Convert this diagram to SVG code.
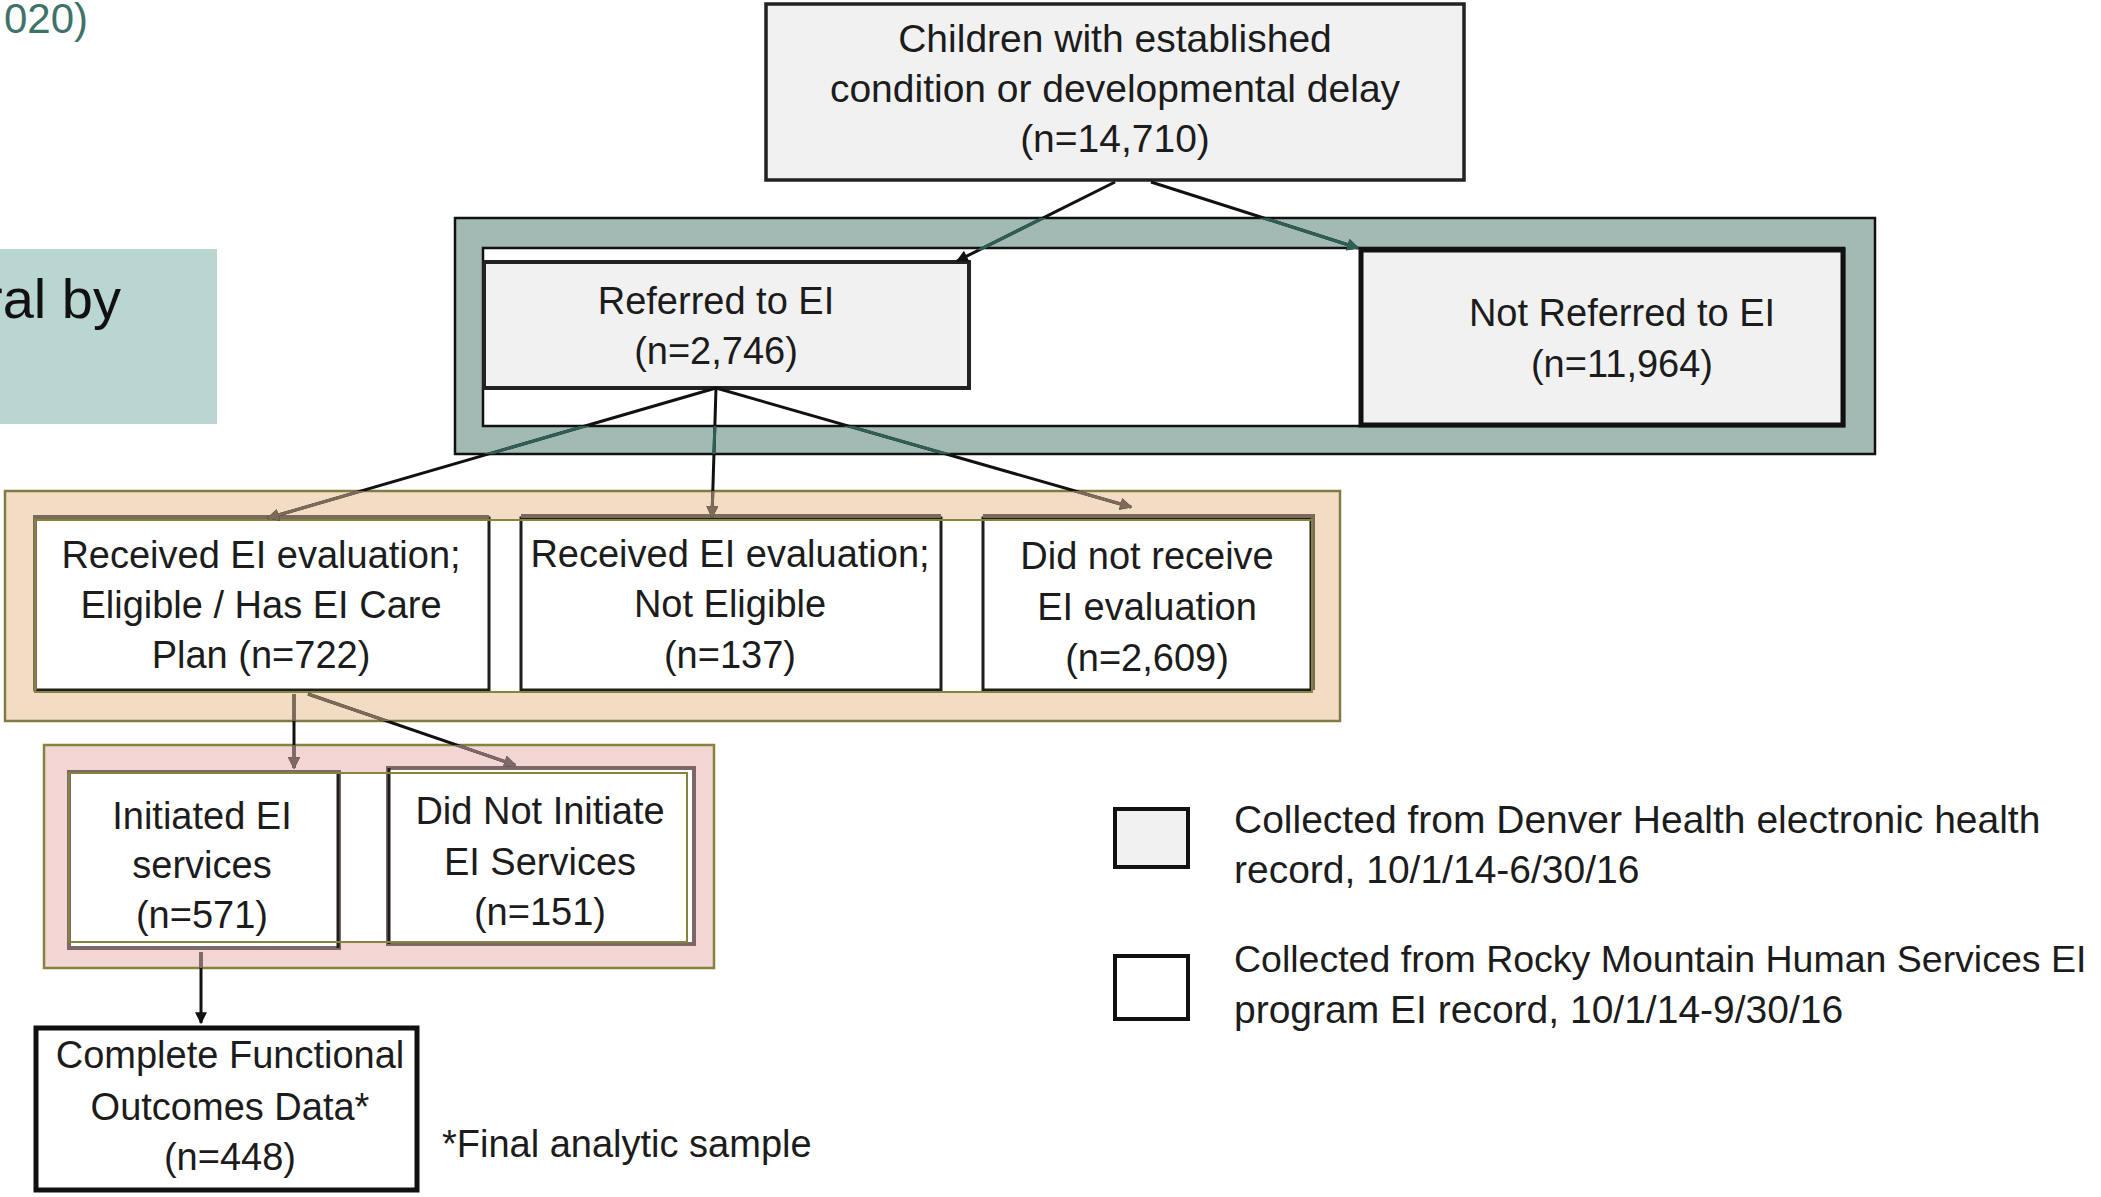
<svg xmlns="http://www.w3.org/2000/svg" width="2101" height="1197" viewBox="0 0 2101 1197">
<defs>
<style>
text{font-family:"Liberation Sans",Arial,sans-serif;fill:#1c1c1c;text-anchor:middle}
.t{font-size:38px}
.tl{font-size:39px;text-anchor:start}
.gray{fill:#f1f1f1}
.wbox{fill:#ffffff;stroke:#1e1e1e;stroke-width:3}
.olive{fill:none;stroke:#85843f;stroke-width:2}
.ln{fill:none;stroke-width:3;stroke:#111}
</style>
<marker id="ah" viewBox="0 0 10 10" refX="9" refY="5" markerWidth="14" markerHeight="12" markerUnits="userSpaceOnUse" orient="auto"><path d="M0,0 L10,5 L0,10 z" fill="#111"/></marker>
<marker id="ahT" viewBox="0 0 10 10" refX="9" refY="5" markerWidth="14" markerHeight="12" markerUnits="userSpaceOnUse" orient="auto"><path d="M0,0 L10,5 L0,10 z" fill="#2f5e55"/></marker>
<marker id="ahB" viewBox="0 0 10 10" refX="9" refY="5" markerWidth="14" markerHeight="12" markerUnits="userSpaceOnUse" orient="auto"><path d="M0,0 L10,5 L0,10 z" fill="#7e6a58"/></marker>
<marker id="ahP" viewBox="0 0 10 10" refX="9" refY="5" markerWidth="14" markerHeight="12" markerUnits="userSpaceOnUse" orient="auto"><path d="M0,0 L10,5 L0,10 z" fill="#7e6868"/></marker>
<clipPath id="cTeal"><path clip-rule="evenodd" d="M455,218 H1875 V454 H455 Z M483,250 V426 H1844 V250 Z"/></clipPath>
<clipPath id="cOrange"><rect x="5" y="491" width="1335" height="230"/></clipPath>
<clipPath id="cPink"><rect x="44" y="745" width="670" height="223"/></clipPath>
</defs>
<rect width="2101" height="1197" fill="#ffffff"/>

<!-- slide fragments -->
<text x="88" y="33" style="font-size:42px;text-anchor:end;fill:#3f7268">020)</text>
<rect x="0" y="249" width="217" height="175" fill="#bad6d2"/>
<text x="121" y="318" style="font-size:56px;text-anchor:end;fill:#111">ral by</text>

<!-- bands -->
<g id="band-teal">
<rect x="455" y="218" width="1420" height="236" fill="#a2b9b4" stroke="#111" stroke-width="2.5"/>
<rect x="483" y="248" width="1361" height="178" fill="#ffffff" stroke="#111" stroke-width="2.5"/>
</g>
<g id="band-orange">
<rect x="5" y="491" width="1335" height="230" fill="#f2dcc4" stroke="#7f7d42" stroke-width="2.5"/>
<rect x="35" y="520" width="1277" height="172" fill="#ffffff"/>
</g>
<g id="band-pink">
<rect x="44" y="745" width="670" height="223" fill="#f3d6d4" stroke="#85843f" stroke-width="2.5"/>
<rect x="69" y="773" width="618" height="169" fill="#ffffff"/>
</g>

<!-- nodes -->
<g id="n-children">
<rect x="766" y="4" width="698" height="176" class="gray" stroke="#222" stroke-width="3.5"/>
<text class="t" style="font-size:39px" x="1115" y="52">Children with established</text>
<text class="t" style="font-size:39px" x="1115" y="102">condition or developmental delay</text>
<text class="t" style="font-size:39px" x="1115" y="152">(n=14,710)</text>
</g>
<g id="n-referred">
<rect x="484" y="262" width="485" height="126" class="gray" stroke="#222" stroke-width="4"/>
<text class="t" x="716" y="314">Referred to EI</text>
<text class="t" x="716" y="364">(n=2,746)</text>
</g>
<g id="n-notreferred">
<rect x="1361" y="250" width="482" height="175" class="gray" stroke="#111" stroke-width="5"/>
<text class="t" x="1622" y="326">Not Referred to EI</text>
<text class="t" x="1622" y="377">(n=11,964)</text>
</g>
<g id="n-eligible">
<rect x="35" y="518" width="454" height="172" class="wbox"/>
<path d="M35,690 V517 H489" fill="none" stroke="#7a6a5c" stroke-width="4"/>
<text class="t" x="261" y="568">Received EI evaluation;</text>
<text class="t" x="261" y="618">Eligible / Has EI Care</text>
<text class="t" x="261" y="668">Plan (n=722)</text>
</g>
<g id="n-noteligible">
<rect x="521" y="518" width="420" height="172" class="wbox"/>
<path d="M521,516 H941" fill="none" stroke="#7a6a5c" stroke-width="4"/>
<text class="t" x="730" y="567">Received EI evaluation;</text>
<text class="t" x="730" y="617">Not Eligible</text>
<text class="t" x="730" y="668">(n=137)</text>
</g>
<g id="n-noeval">
<rect x="983" y="518" width="328" height="172" class="wbox"/>
<path d="M983,516 H1313 V690" fill="none" stroke="#7a6a5c" stroke-width="4"/>
<text class="t" x="1147" y="569">Did not receive</text>
<text class="t" x="1147" y="620">EI evaluation</text>
<text class="t" x="1147" y="671">(n=2,609)</text>
</g>
<rect id="olive-orange" x="35" y="520" width="1277" height="172" class="olive"/>
<g id="n-initiated">
<rect x="69" y="772" width="270" height="176" fill="#fff" stroke="#7d6868" stroke-width="4"/>
<path d="M338,772 V948" stroke="#1e1e1e" stroke-width="3"/>
<text class="t" x="202" y="829">Initiated EI</text>
<text class="t" x="202" y="878">services</text>
<text class="t" x="202" y="928">(n=571)</text>
</g>
<g id="n-notinitiated">
<rect x="388" y="768" width="306" height="176" fill="#fff" stroke="#7d6868" stroke-width="4"/>
<path d="M389,768 V944" stroke="#1e1e1e" stroke-width="3"/>
<text class="t" x="540" y="824">Did Not Initiate</text>
<text class="t" x="540" y="875">EI Services</text>
<text class="t" x="540" y="925">(n=151)</text>
</g>
<rect id="olive-pink" x="69" y="773" width="618" height="169" class="olive"/>
<g id="n-complete">
<rect x="36" y="1028" width="381" height="162" fill="#fff" stroke="#111" stroke-width="5"/>
<text class="t" x="230" y="1068">Complete Functional</text>
<text class="t" x="230" y="1120">Outcomes Data*</text>
<text class="t" x="230" y="1170">(n=448)</text>
</g>
<text class="t" x="442" y="1157" style="text-anchor:start">*Final analytic sample</text>

<!-- legend -->
<g id="legend">
<rect x="1115" y="809" width="73" height="58" class="gray" stroke="#111" stroke-width="4"/>
<text class="tl" x="1234" y="833">Collected from Denver Health electronic health</text>
<text class="tl" x="1234" y="883">record, 10/1/14-6/30/16</text>
<rect x="1115" y="956" width="73" height="63" fill="#fff" stroke="#111" stroke-width="4"/>
<text class="tl" x="1234" y="972" style="font-size:37.5px">Collected from Rocky Mountain Human Services EI</text>
<text class="tl" x="1234" y="1023">program EI record, 10/1/14-9/30/16</text>
</g>

<!-- connectors -->
<g id="connectors">
<g id="conn-base">
<path class="ln" d="M1115,182 L957,261" marker-end="url(#ah)"/>
<path class="ln" d="M1151,182 L1358,248" marker-end="url(#ah)"/>
<path class="ln" d="M716,388 L268,518" marker-end="url(#ah)"/>
<path class="ln" d="M716,388 L712,517" marker-end="url(#ah)"/>
<path class="ln" d="M716,388 L1131,507" marker-end="url(#ah)"/>
<path class="ln" d="M294,694 L294,768" marker-end="url(#ah)"/>
<path class="ln" d="M308,694 L515,765" marker-end="url(#ah)"/>
<path class="ln" d="M201,952 L201,1023" marker-end="url(#ah)"/>
</g>
<g id="conn-teal" clip-path="url(#cTeal)">
<path class="ln" style="stroke:#2f5e55" d="M1115,182 L957,261" marker-end="url(#ahT)"/>
<path class="ln" style="stroke:#2f5e55" d="M1151,182 L1358,248" marker-end="url(#ahT)"/>
<path class="ln" style="stroke:#2f5e55" d="M716,388 L268,518"/>
<path class="ln" style="stroke:#2f5e55" d="M716,388 L712,517"/>
<path class="ln" style="stroke:#2f5e55" d="M716,388 L1131,507"/>
</g>
<g id="conn-orange" clip-path="url(#cOrange)">
<path class="ln" style="stroke:#7e6a58" d="M716,388 L268,518" marker-end="url(#ahB)"/>
<path class="ln" style="stroke:#7e6a58" d="M716,388 L712,517" marker-end="url(#ahB)"/>
<path class="ln" style="stroke:#7e6a58" d="M716,388 L1131,507" marker-end="url(#ahB)"/>
<path class="ln" style="stroke:#7e6a58" d="M294,694 L294,768"/>
<path class="ln" style="stroke:#7e6a58" d="M308,694 L515,765"/>
</g>
<g id="conn-pink" clip-path="url(#cPink)">
<path class="ln" style="stroke:#7e6868" d="M294,694 L294,768" marker-end="url(#ahP)"/>
<path class="ln" style="stroke:#7e6868" d="M308,694 L515,765" marker-end="url(#ahP)"/>
<path class="ln" style="stroke:#7e6868" d="M201,952 L201,1023"/>
</g>
</g>
</svg>
